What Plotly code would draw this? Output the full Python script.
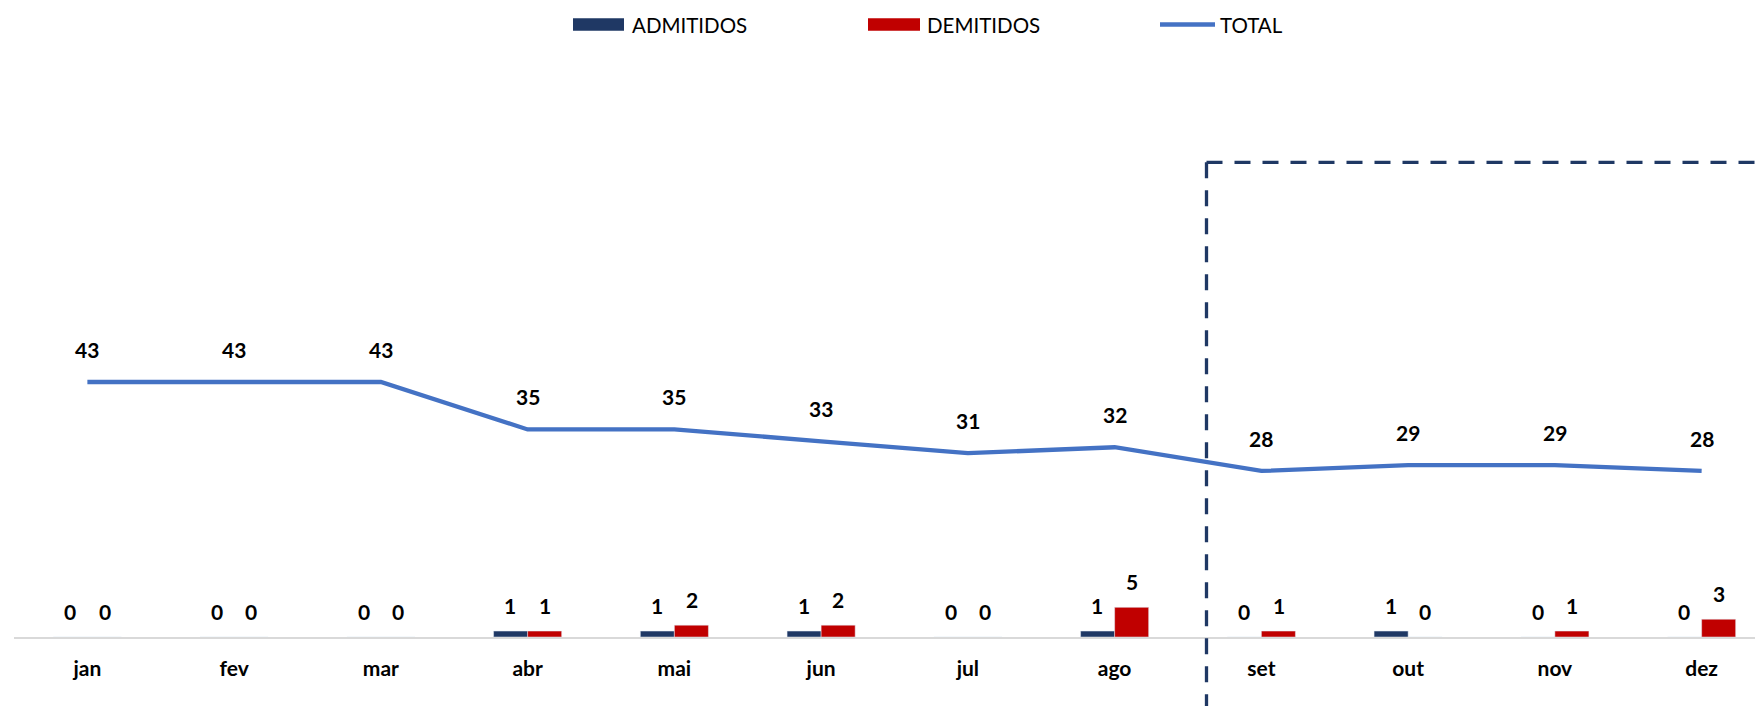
import plotly.graph_objects as go

months = ["jan", "fev", "mar", "abr", "mai", "jun", "jul", "ago", "set", "out", "nov", "dez"]
admitidos = [0, 0, 0, 1, 1, 1, 0, 1, 0, 1, 0, 0]
demitidos = [0, 0, 0, 1, 2, 2, 0, 5, 1, 0, 1, 3]
total = [43, 43, 43, 35, 35, 33, 31, 32, 28, 29, 29, 28]

C_ADM = "#1F3864"
C_DEM = "#C00000"
C_TOT = "#4472C4"

OFF = 8  # default body margin of the html page
W, H = 1763 - OFF, 706 - OFF
ML, MR, MT, MB = 6, 0, 72, 69
PW, PH = W - ML - MR, H - MT - MB
FONT = "Lato"


def px(x):
    # screenshot x -> paper
    return (x - OFF - ML) / PW


def py(y):
    # screenshot y -> paper
    return (H - MB - (y - OFF)) / PH


fig = go.Figure()
fig.add_trace(go.Bar(x=months, y=admitidos, name="ADMITIDOS", marker_color=C_ADM, showlegend=False))
fig.add_trace(go.Bar(x=months, y=demitidos, name="DEMITIDOS", marker_color=C_DEM, showlegend=False))
fig.add_trace(go.Scatter(x=months, y=total, name="TOTAL", mode="lines",
                         line=dict(color=C_TOT, width=4.3), showlegend=False))

ann = []
lab_font = dict(family=FONT, size=21, color="black", weight="bold")
for m, a, d, t in zip(months, admitidos, demitidos, total):
    ann.append(dict(x=m, y=t, xref="x", yref="y", text=str(t), showarrow=False,
                    yshift=32.5, yanchor="middle", font=lab_font))
    ann.append(dict(x=m, y=a, xref="x", yref="y", text=str(a), showarrow=False,
                    xshift=-17.3, yshift=26, yanchor="middle", font=lab_font))
    ann.append(dict(x=m, y=d, xref="x", yref="y", text=str(d), showarrow=False,
                    xshift=17.3, yshift=26, yanchor="middle", font=lab_font))

# custom legend
leg_font = dict(family=FONT, size=20.5, color="black")
shapes = []
leg_items = [("ADMITIDOS", C_ADM, "rect", 573, 624, 630),
             ("DEMITIDOS", C_DEM, "rect", 868, 920, 925),
             ("TOTAL", C_TOT, "line", 1160, 1215, 1218)]
ly = 24.5
for name, col, kind, x0, x1, tx in leg_items:
    if kind == "rect":
        shapes.append(dict(type="rect", xref="paper", yref="paper",
                           x0=px(x0), x1=px(x1), y0=py(ly + 6.2), y1=py(ly - 6.2),
                           fillcolor=col, line=dict(width=0)))
    else:
        shapes.append(dict(type="line", xref="paper", yref="paper",
                           x0=px(x0), x1=px(x1), y0=py(ly), y1=py(ly),
                           line=dict(color=col, width=4.3)))
    ann.append(dict(x=px(tx), y=py(ly), xref="paper", yref="paper", text=name,
                    showarrow=False, xanchor="left", yanchor="middle", font=leg_font))

# dashed highlight box (top-left corner visible)
box_x, box_y = 1206.5, 162.3
shapes.append(dict(type="line", xref="paper", yref="paper",
                   x0=px(box_x), x1=px(box_x), y0=py(box_y), y1=py(720),
                   line=dict(color=C_ADM, width=3.3, dash="16px,12px")))
shapes.append(dict(type="line", xref="paper", yref="paper",
                   x0=px(box_x), x1=px(1780), y0=py(box_y), y1=py(box_y),
                   line=dict(color=C_ADM, width=3.3, dash="16px,12px")))

fig.update_layout(
    width=W, height=H,
    margin=dict(l=ML, r=MR, t=MT, b=MB),
    plot_bgcolor="white", paper_bgcolor="white",
    barmode="group", bargap=0.536, bargroupgap=0,
    showlegend=False,
    annotations=ann, shapes=shapes,
)
fig.update_xaxes(range=[-0.5, -0.5 + PW / 146.75], showgrid=False, zeroline=False,
                 showline=True, linecolor="#D9D9D9", linewidth=2,
                 ticks="", ticklabelstandoff=12,
                 tickfont=dict(family=FONT, size=21, color="black", weight="bold"))
fig.update_yaxes(range=[0, PH / 5.93], visible=False, showgrid=False, zeroline=False)

fig.write_html("out.html")
